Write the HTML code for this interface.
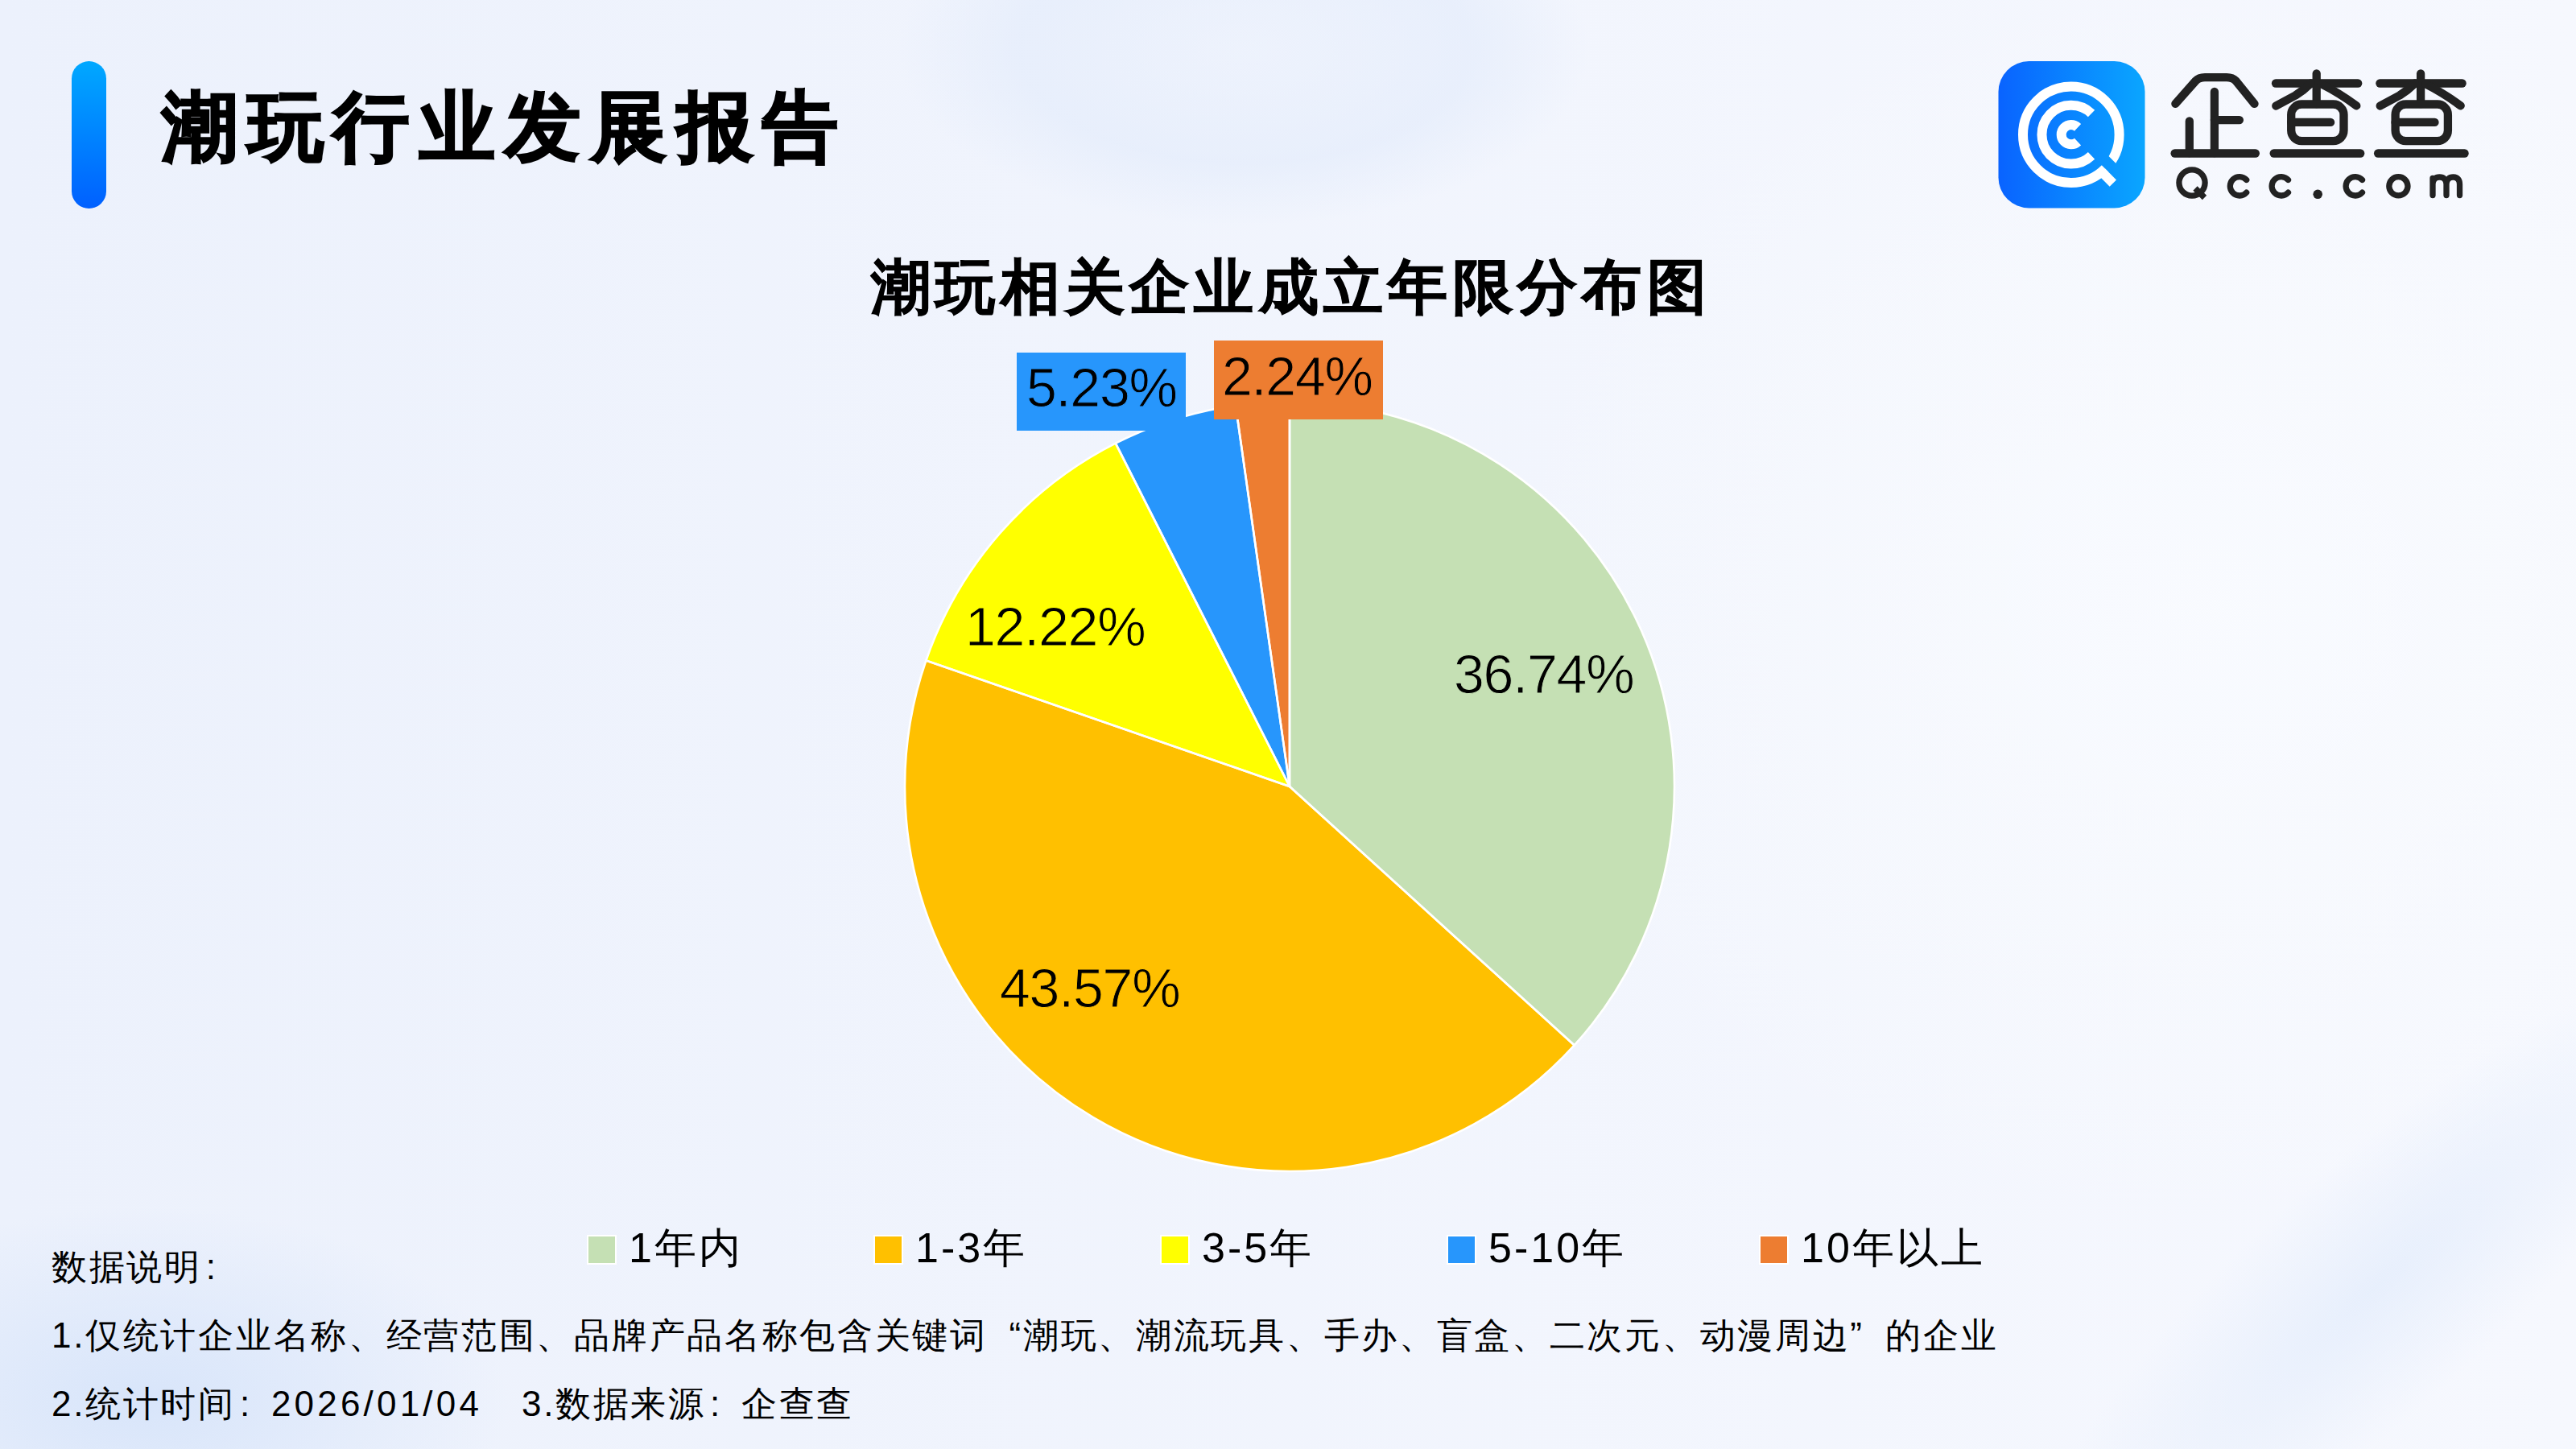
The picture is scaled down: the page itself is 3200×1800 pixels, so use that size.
<!DOCTYPE html>
<html><head><meta charset="utf-8">
<style>
html,body{margin:0;padding:0;}
body{width:3200px;height:1800px;position:relative;overflow:hidden;font-family:"Liberation Sans",sans-serif;color:#000;
background:#EFF3FC;}
.bg{position:absolute;left:0;top:0;width:3200px;height:1800px;}
.abs{position:absolute;white-space:nowrap;}
.bar{left:89px;top:76px;width:43px;height:183px;border-radius:22px;background:linear-gradient(180deg,#00A8FF,#0060FF);}
.title{left:201px;top:111px;font-size:94px;font-weight:bold;line-height:1;letter-spacing:12.6px;-webkit-text-stroke:2.5px #000;}
.ctitle{left:1082px;top:320px;font-size:74px;font-weight:bold;line-height:1;letter-spacing:6.3px;-webkit-text-stroke:1px #000;}
.lbl{font-size:68px;line-height:1;letter-spacing:-1.2px;}
.box{position:absolute;}
.leg{top:1524px;letter-spacing:3px;height:52px;left:729px;display:flex;align-items:center;font-size:52px;line-height:1;}
.leg .sq{width:33px;height:33px;border:2.5px solid #fff;margin-right:15px;position:relative;top:2px;}
.leg .it{display:flex;align-items:center;}
.ql{display:inline-block;width:1em;text-align:right;}.qr{display:inline-block;width:1em;text-align:left;}
.cb{display:inline-block;width:44px;padding-left:5px;box-sizing:border-box;}
.note{left:64px;font-size:44px;line-height:1;letter-spacing:2.7px;}
</style></head>
<body>
<svg class="bg" width="3200" height="1800" viewBox="0 0 3200 1800">
<defs>
<radialGradient id="g1" cx="0.5" cy="0.5" r="0.5"><stop offset="0" stop-color="#E8EFFC" stop-opacity="0.4"/><stop offset="0.65" stop-color="#E2EBFB" stop-opacity="0.6"/><stop offset="1" stop-color="#E2EBFB" stop-opacity="0"/></radialGradient>
<radialGradient id="g2" cx="0.5" cy="0.5" r="0.5"><stop offset="0" stop-color="#D8E5FA" stop-opacity="1"/><stop offset="1" stop-color="#D8E5FA" stop-opacity="0"/></radialGradient>
<radialGradient id="g3" cx="0.5" cy="0.5" r="0.5"><stop offset="0" stop-color="#FAFCFF" stop-opacity="0.7"/><stop offset="1" stop-color="#FAFCFF" stop-opacity="0"/></radialGradient>
<radialGradient id="g4" cx="0.5" cy="0.5" r="0.5"><stop offset="0" stop-color="#E4EDFC" stop-opacity="0.8"/><stop offset="1" stop-color="#E4EDFC" stop-opacity="0"/></radialGradient>
<linearGradient id="lg" x1="0" y1="0" x2="1" y2="0"><stop offset="0" stop-color="#ECF1FC"/><stop offset="1" stop-color="#F6F8FE"/></linearGradient>
</defs>
<rect width="3200" height="1800" fill="url(#lg)"/>
<ellipse cx="2750" cy="750" rx="900" ry="800" fill="url(#g3)"/>
<ellipse cx="1545" cy="60" rx="430" ry="220" fill="url(#g1)"/>
<ellipse cx="180" cy="1740" rx="450" ry="240" fill="url(#g2)"/>
<ellipse cx="2950" cy="1600" rx="560" ry="150" transform="rotate(-42 2950 1600)" fill="url(#g4)"/>
</svg>
<div class="abs bar"></div>
<div class="abs title">潮玩行业发展报告</div>
<div class="abs ctitle">潮玩相关企业成立年限分布图</div>

<svg class="bg" width="3200" height="1800" viewBox="0 0 3200 1800">
<path d="M1602.0,977.0 L1602.00,499.00 A478.0,478.0 0 0 1 1955.75,1298.48 Z" fill="#C5E0B4"/>
<path d="M1602.0,977.0 L1955.75,1298.48 A478.0,478.0 0 0 1 1150.36,820.46 Z" fill="#FFC000"/>
<path d="M1602.0,977.0 L1150.36,820.46 A478.0,478.0 0 0 1 1385.80,550.69 Z" fill="#FFFF00"/>
<path d="M1602.0,977.0 L1385.80,550.69 A478.0,478.0 0 0 1 1534.95,503.73 Z" fill="#2796FC"/>
<path d="M1602.0,977.0 L1534.95,503.73 A478.0,478.0 0 0 1 1602.00,499.00 Z" fill="#ED7D31"/>
<path d="M1602.0,977.0 L1602.00,499.00 A478.0,478.0 0 0 1 1955.75,1298.48 Z" fill="none" stroke="#fff" stroke-width="2.6" stroke-linejoin="round"/>
<path d="M1602.0,977.0 L1955.75,1298.48 A478.0,478.0 0 0 1 1150.36,820.46 Z" fill="none" stroke="#fff" stroke-width="2.6" stroke-linejoin="round"/>
<path d="M1602.0,977.0 L1150.36,820.46 A478.0,478.0 0 0 1 1385.80,550.69 Z" fill="none" stroke="#fff" stroke-width="2.6" stroke-linejoin="round"/>
<path d="M1602.0,977.0 L1385.80,550.69 A478.0,478.0 0 0 1 1534.95,503.73 Z" fill="none" stroke="#fff" stroke-width="2.6" stroke-linejoin="round"/>
<path d="M1602.0,977.0 L1534.95,503.73 A478.0,478.0 0 0 1 1602.00,499.00 Z" fill="none" stroke="#fff" stroke-width="2.6" stroke-linejoin="round"/>
<rect x="1263" y="438" width="210" height="97" fill="#2796FC"/>
<rect x="1508" y="423" width="210" height="98" fill="#ED7D31"/>
</svg>
<div class="abs lbl" style="left:1275px;top:447px;-webkit-text-stroke:0.9px #2796FC">5.23%</div>
<div class="abs lbl" style="left:1518px;top:433px;-webkit-text-stroke:0.9px #ED7D31">2.24%</div>
<div class="abs lbl" style="left:1806px;top:803px;-webkit-text-stroke:0.9px #C5E0B4">36.74%</div>
<div class="abs lbl" style="left:1199px;top:744px;-webkit-text-stroke:0.9px #FFFF00">12.22%</div>
<div class="abs lbl" style="left:1242px;top:1193px;-webkit-text-stroke:0.9px #FFC000">43.57%</div>

<div class="abs leg">
<div class="it" style="width:356px"><div class="sq" style="background:#C5E0B4"></div>1年内</div>
<div class="it" style="width:356px"><div class="sq" style="background:#FFC000"></div>1-3年</div>
<div class="it" style="width:356px"><div class="sq" style="background:#FFFF00"></div>3-5年</div>
<div class="it" style="width:388px"><div class="sq" style="background:#2796FC"></div>5-10年</div>
<div class="it"><div class="sq" style="background:#ED7D31"></div>10年以上</div>
</div>

<div class="abs note" style="top:1552px">数据说明<span style="margin-left:5px">:</span></div>
<div class="abs note" style="top:1637px">1.仅统计企业名称、经营范围、品牌产品名称包含关键词<span class="ql">“</span>潮玩、潮流玩具、手办、盲盒、二次元、动漫周边<span class="qr">”</span>的企业</div>
<div class="abs note" style="top:1722px">2.统计时间<span class="cb">:</span><span style="letter-spacing:4.2px">2026/01/04</span></div>
<div class="abs note" style="top:1722px;left:648px">3.数据来源<span class="cb">:</span>企查查</div>

<svg class="abs" style="left:2470px;top:65px" width="210" height="205" viewBox="2470 65 210 205">
<defs>
<linearGradient id="lgo" x1="0" y1="0" x2="1" y2="0"><stop offset="0" stop-color="#0963FF"/><stop offset="1" stop-color="#0AA6FF"/></linearGradient>
<mask id="gapm" maskUnits="userSpaceOnUse" x="2470" y="65" width="210" height="205">
<rect x="2470" y="65" width="210" height="205" fill="#fff"/>
<polygon points="2597.8,192.2 2637.8,232.2 2647.75,222.25 2607.75,182.25" fill="#000"/>
</mask>
</defs>
<rect x="2482.5" y="76" width="182" height="182.5" rx="38" ry="38" fill="url(#lgo)"/>
<g fill="none" stroke="#fff" stroke-width="12">
<circle cx="2572.8" cy="167.2" r="59.8" mask="url(#gapm)"/>
<path d="M2598.05,193.35 A36.35,36.35 0 1 1 2598.05,141.05"/>
<path d="M2581.05,176.05 A12.1,12.1 0 1 1 2581.05,158.35"/>
</g>
<polygon points="2615.1,209.5 2629,223.4 2620.7,231.7 2606.8,217.8" fill="#fff"/>
</svg>
<svg class="abs" style="left:2690px;top:80px" width="390" height="180" viewBox="2690 80 390 180">
<g fill="none" stroke="#222" stroke-width="10.3" stroke-linecap="round" stroke-linejoin="round">
<path d="M2702.4,128.9 L2727.5,100.5 Q2731.5,96.1 2739,96.1 L2766,96.1 Q2773.5,96.1 2777.5,100.5 L2800.5,128.9"/>
<path d="M2750.9,113.9 L2750.9,190"/>
<path d="M2750.9,149.1 L2781.9,149.1"/>
<path d="M2719.8,150.4 L2719.8,190"/>
<path d="M2701.6,190.5 L2801.8,190.5"/>
<g id="cha">
<path d="M2827,103.5 L2929.2,103.5"/>
<path d="M2877.7,91.4 L2877.7,129"/>
<path d="M2827.3,131.5 L2851.5,118.5 Q2862,112 2870.5,103.5"/>
<path d="M2884,104.5 Q2905,115 2927.3,131.3"/>
<rect x="2846.2" y="129.5" width="65.3" height="45.6" rx="13" ry="13"/>
<path d="M2846.2,151.9 L2895.1,151.9"/>
<path d="M2824.7,190.5 L2932.2,190.5"/>
</g>
<use href="#cha" transform="translate(129.4,0)"/>
</g>
<g fill="none" stroke="#222" stroke-width="7.3" stroke-linecap="round">
<circle cx="2723" cy="227" r="16.1"/>
<path d="M2727,234 L2738.5,245.5" stroke-linecap="butt" stroke-width="7.5"/>
<path d="M2790.69,239.13 A11.7,11.7 0 1 1 2790.69,223.47"/>
<path d="M2842.49,239.13 A11.7,11.7 0 1 1 2842.49,223.47"/>
<path d="M2934.49,239.13 A11.7,11.7 0 1 1 2934.49,223.47"/>
<circle cx="2979.4" cy="231.3" r="11.6"/>
<path d="M3022,242.5 L3022,221.5 M3022,229 C3022,223 3025.5,220 3030.5,220 C3035.5,220 3039,223 3039,229 L3039,242.5 M3039,229 C3039,223 3042.5,220 3047.5,220 C3052.5,220 3055.5,223 3055.5,229 L3055.5,242.5"/>
</g>
<circle cx="2879.2" cy="241.3" r="5.8" fill="#222"/>
</svg>

</body></html>
